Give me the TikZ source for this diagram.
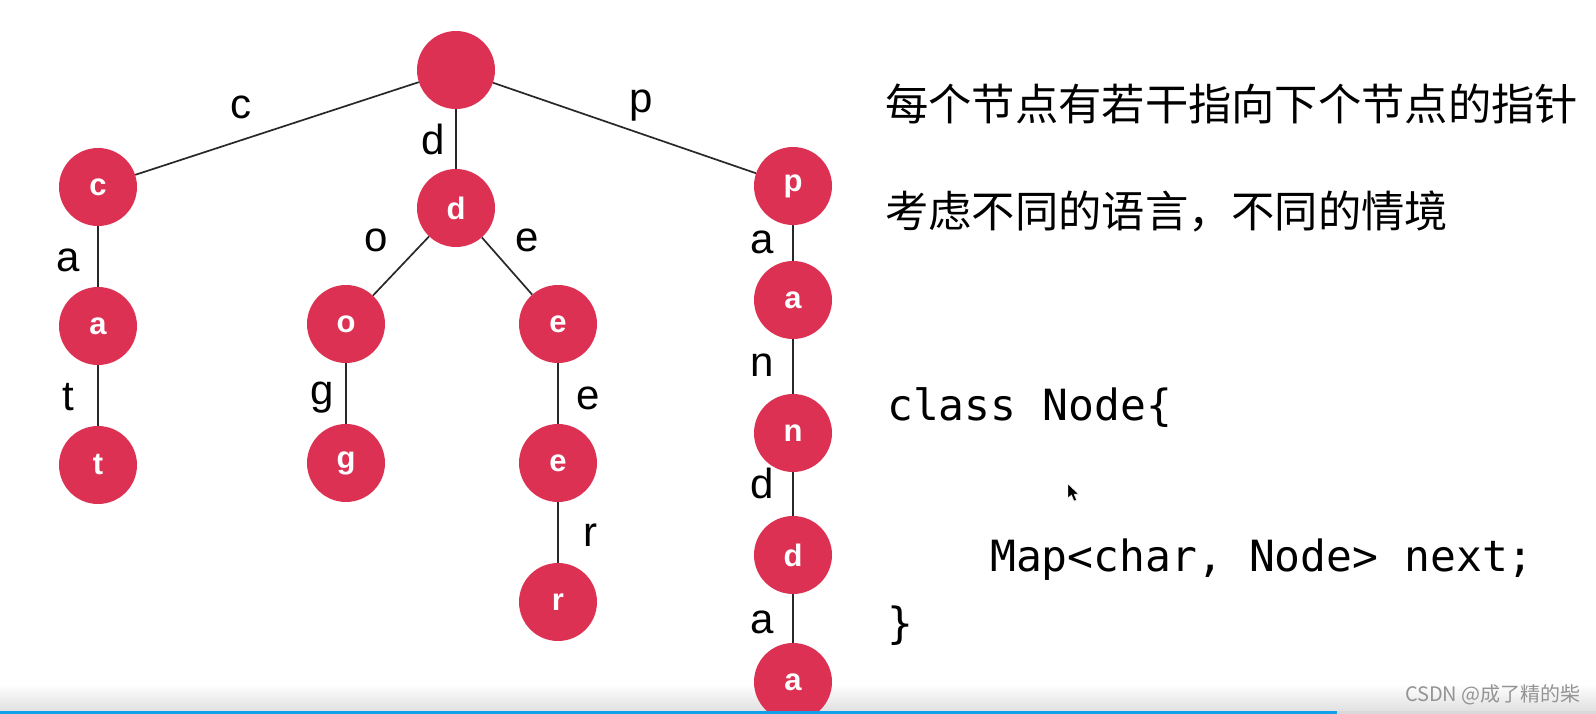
\documentclass[tikz,border=0pt]{standalone}
\usepackage{fontspec}
\setmainfont{Liberation Sans}
\newfontfamily\cjkfont{Noto Sans CJK SC}
\newfontfamily\monofont{DejaVu Sans Mono}
\definecolor{nodered}{RGB}{221,49,83}
\definecolor{barblue}{RGB}{18,160,236}
\definecolor{edgegray}{RGB}{40,40,40}
\begin{document}
\begin{tikzpicture}[x=1pt,y=-1pt,
  trie/.style={circle, fill=nodered, minimum size=78pt, inner sep=0pt, text=white,
    font=\fontsize{31}{31}\selectfont\bfseries},
  edge/.style={draw=edgegray, line width=1.7pt},
  lbl/.style={inner sep=0pt, font=\fontsize{42}{42}\selectfont},
  cjk/.style={inner sep=0pt, anchor=base west, font=\cjkfont\fontsize{43.3}{43.3}\selectfont},
  code/.style={inner sep=0pt, anchor=base west, font=\monofont\fontsize{43}{43}\selectfont}]
\useasboundingbox (0,0) rectangle (1596,714);
\fill[white] (0,0) rectangle (1596,714);

% bottom bar
\shade[top color=white, bottom color=black!12] (0,684) rectangle (1596,711);

% nodes
\node[trie] (root) at (456,70) {};
\node[trie] (c) at (98,187) {c};
\node[trie] (ca) at (98,326) {a};
\node[trie] (cat) at (98,465) {t};
\node[trie] (d) at (456,208) {d};
\node[trie] (o) at (346,324) {o};
\node[trie] (g) at (346,463) {g};
\node[trie] (e) at (558,324) {e};
\node[trie] (ee) at (558,463) {e};
\node[trie] (r) at (558,602) {r};
\node[trie] (p) at (793,186) {p};
\node[trie] (pa) at (793,300) {a};
\node[trie] (n) at (793,433) {n};
\node[trie] (pd) at (793,555) {d};
\node[trie] (pda) at (793,682) {a};

% edges
\draw[edge] (root) -- (c);
\draw[edge] (root) -- (d);
\draw[edge] (root) -- (p);
\draw[edge] (c) -- (ca);
\draw[edge] (ca) -- (cat);
\draw[edge] (d) -- (o);
\draw[edge] (d) -- (e);
\draw[edge] (o) -- (g);
\draw[edge] (e) -- (ee);
\draw[edge] (ee) -- (r);
\draw[edge] (p) -- (pa);
\draw[edge] (pa) -- (n);
\draw[edge] (n) -- (pd);
\draw[edge] (pd) -- (pda);

% edge labels
\node[lbl] (lc) at (241,107) {c};
\node[lbl] (ld) at (433,139) {d};
\node[lbl] (lp) at (641,106) {p};
\node[lbl] (la) at (68,260) {a};
\node[lbl] (lt) at (68,397) {t};
\node[lbl] (lo) at (376,240) {o};
\node[lbl] (le) at (527,240) {e};
\node[lbl] (lg) at (322,398) {g};
\node[lbl] (lee) at (588,398) {e};
\node[lbl] (lr) at (590,535) {r};
\node[lbl] (lpa) at (762,242) {a};
\node[lbl] (ln) at (762,365) {n};
\node[lbl] (lpd) at (762,483) {d};
\node[lbl] (lpda) at (762,622) {a};

% right text
\node[cjk] (t1) at (885,121) {每个节点有若干指向下个节点的指针};
\node[cjk] (t2) at (885,228) {考虑不同的语言，不同的情境};
\node[code] (k1) at (887,420) {class Node\{};
\node[code] (k2) at (990,571) {Map<char, Node> next;};
\node[code] (k3) at (887,638) {\}};

% mouse cursor
\fill[black, draw=white, line width=0.4pt] (1068,484) -- (1068,498) -- (1071.5,495) -- (1074,501) -- (1076.5,500) -- (1074,494) -- (1078.5,494) -- cycle;

% bottom progress line and watermark
\fill[black!15] (1337,711) rectangle (1596,714);
\fill[barblue] (0,711) rectangle (1337,714);
\node[inner sep=0pt, anchor=base east, font=\cjkfont\fontsize{20}{20}\selectfont, text=black!42] (wm) at (1581,701) {CSDN @成了精的柴};
\end{tikzpicture}
\end{document}
